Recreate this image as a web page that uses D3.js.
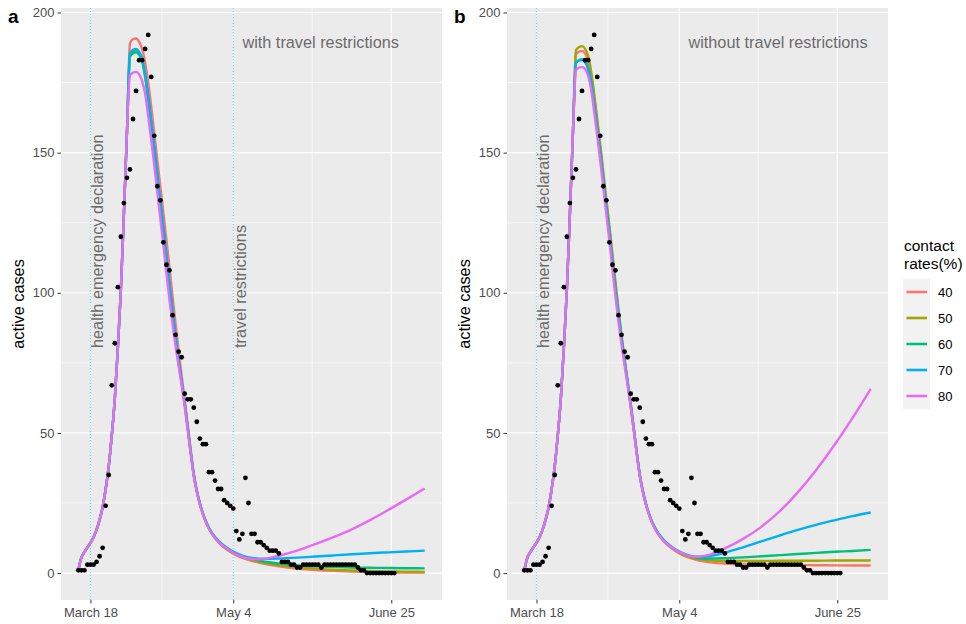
<!DOCTYPE html>
<html><head><meta charset="utf-8">
<script src="https://cdn.jsdelivr.net/npm/d3@7"></script>
<style>
body{margin:0;background:#fff}
svg{display:block}
text{font-family:"Liberation Sans",Arial,Helvetica,sans-serif}
</style>
</head><body>
<svg id="chart" width="966" height="624"></svg>
<script>
// ---------------- DATA ----------------
const startDate = "2020-03-14";           // day 0 of all series
// observed active cases, one value per day from startDate
const observed = [
  1,1,1,3,3,3,4,6,9,24,
  35,67,82,102,120,132,141,144,162,172,
  183,183,187,192,177,156,138,133,118,110,
  108,92,85,79,77,64,62,62,59,54,
  48,46,46,36,36,33,30,30,26,25,
  24,23,15,12,14,34,25,14,14,11,
  11,10,9,8,8,8,7,4,4,4,
  3,3,2,2,3,3,3,3,3,3,
  2,3,3,3,3,3,3,3,3,3,
  3,3,2,1,1,0,0,0,0,0,
  0,0,0,0,0
];
// model output sampled at these day offsets
const modelDays = [0,1,2,3,4,5,6,7,8,9,10,11,12,13,14,15,16,17,18,19,20,21,22,23,24,25,26,27,28,29,30,
  31,32,33,34,35,36,37,38,39,40,42,44,46,48,50,52,54,56,58,60,66,72,78,84,90,96,102,108,114];

const contactRates = ["40","50","60","70","80"];
const rateColors = ["#F8766D","#A3A500","#00BF7D","#00B0F6","#E76BF3"];

// panel a: with travel restrictions
const withR40 = [1,5.5,7.5,9.2,10.8,12.8,15.5,19,23.5,30,38,49,62,80,101,128,157,
  189,190.5,190.7,189.5,187,182,175,166.5,157,147.5,138,128.5,119,109,99,89,79.5,70.5,62,53,44,35.5,29.5,25,
  18.3,14.0,11.2,9.1,7.6,6.4,5.4,4.7,4.1,3.6,
  2.4,1.6,1.1,0.8,0.55,0.4,0.3,0.22,0.15];
const withR50 = [1,5.5,7.5,9.2,10.8,12.8,15.5,19,23.5,30,38,49,62,80,101,128,157,
  185,186.2,186.5,185.5,183,177.5,169.5,160.5,151.5,141.5,132,122.5,112.5,102.5,93,84,75.5,68,60.5,52,43,35,29.3,24.8,
  18.3,14.1,11.3,9.3,7.8,6.6,5.7,5.0,4.4,3.9,
  2.9,2.1,1.6,1.2,0.95,0.75,0.62,0.52,0.45];
const withR60 = [1,5.5,7.5,9.2,10.8,12.8,15.5,19,23.5,30,38,49,62,80,101,128,157,
  184.3,185.5,185.8,185,182.5,177,169.5,160.5,151.5,141.5,132,122.5,112.5,102.5,93,84,75.5,68,60.5,52,43,35,29.3,24.8,
  18.3,14.2,11.5,9.5,8.0,6.9,6.0,5.3,4.8,4.3,
  3.4,2.8,2.4,2.2,2.0,1.9,1.8,1.75,1.7];
const withR70 = [1,5.5,7.5,9.2,10.8,12.8,15.5,19,23.5,30,38,49,62,80,101,128,157,
  185.5,186.7,187,186,183.5,178,170,161,152,142,132.5,123,113,103,93.5,84.5,76,68.5,60.5,52,43,35,29.3,24.8,
  18.3,14.3,11.7,9.8,8.3,7.1,6.2,5.6,5.3,5.1,
  5.2,5.5,5.9,6.3,6.7,7.1,7.4,7.7,8.0];
const withR80 = [1,5.5,7.5,9.2,10.8,12.8,15.5,19,23.5,30,38,49,62,80,101,128,157,
  177.5,178.5,178.8,178,175.5,171,163,154.5,145.5,136,126.5,117,107,97.5,89,81,74,67,59.5,51,42.5,34.5,29,24.5,
  18.0,14.0,11.3,9.4,8.0,6.7,5.8,5.2,4.9,4.9,
  6.2,8.0,10.3,12.8,15.6,18.9,22.5,26.3,30.2];

// panel b: without travel restrictions
const withoutR40 = [1,5.5,7.5,9.2,10.8,12.8,15.5,19,23.5,30,38,49,62,80,101,128,157,
  185,186,186.3,185.3,183,177.5,169.5,160.5,151.5,141.5,132,122.5,112.5,102.5,93,84,75.5,68,60.5,52,43,35,29.3,24.8,
  18.3,14.1,11.3,9.3,7.7,6.5,5.6,4.9,4.4,4.0,
  3.4,3.1,3.0,2.9,2.85,2.8,2.75,2.7,2.7];
const withoutR50 = [1,5.5,7.5,9.2,10.8,12.8,15.5,19,23.5,30,38,49,62,80,101,128,157,
  186.5,187.7,188,187,184.5,179,171,162,153,143,133.5,124,114,104,94,85,76.5,68.5,60.5,52,43,35,29.3,24.8,
  18.3,14.2,11.4,9.4,7.9,6.7,5.9,5.3,4.9,4.6,
  4.3,4.3,4.3,4.4,4.4,4.4,4.5,4.5,4.5];
const withoutR60 = [1,5.5,7.5,9.2,10.8,12.8,15.5,19,23.5,30,38,49,62,80,101,128,157,
  182,183,183.3,182.5,180,175,167,158.5,149.5,140,130.5,121,111,101,92,83.5,75.5,68,60,51.5,43,35,29.3,24.8,
  18.3,14.3,11.6,9.6,8.1,7.0,6.2,5.6,5.3,5.2,
  5.3,5.6,6.0,6.4,6.8,7.2,7.6,7.9,8.3];
const withoutR70 = [1,5.5,7.5,9.2,10.8,12.8,15.5,19,23.5,30,38,49,62,80,101,128,157,
  182,182.8,183,182.3,180,175,167,158.5,149.5,140,130.5,121,111,101,92,83.5,75.5,68,60,51.5,43,35,29.3,24.8,
  18.3,14.3,11.7,9.8,8.3,7.2,6.4,5.9,5.8,5.9,
  7.3,9.2,11.3,13.4,15.4,17.2,18.8,20.3,21.6];
const withoutR80 = [1,5.5,7.5,9.2,10.8,12.8,15.5,19,23.5,30,38,49,62,80,101,128,157,
  179.6,180.3,180.5,179.8,177.5,172.5,164.5,156,147,137.5,128,118.5,108.5,98.5,89.5,81.5,74,67,59.5,51,42.5,34.5,29,24.5,
  18.0,14.0,11.4,9.5,8.1,7.0,6.2,5.8,5.9,6.3,
  8.8,12.2,16.5,22.0,28.8,36.7,45.6,55.3,65.7];

const xTickDates = ["2020-03-18","2020-05-04","2020-06-25"];
const xTickLabels = ["March 18","May 4","June 25"];
const yTicks = [0,50,100,150,200];

const emergencyDate = "2020-03-18";
const travelDate = "2020-05-04";
const noteDate = "2020-05-07";

// ---------------- SETUP ----------------
const svg = d3.select("#chart");
const parse = d3.utcParse("%Y-%m-%d");
const t0 = parse(startDate);
const dateOf = d => new Date(t0.getTime() + d * 864e5);
const FONT_TICK = 13, FONT_TITLE = 16.3;

const allDays = [0, observed.length - 1].concat(modelDays);
const dExt = d3.extent(allDays);
const dPad = (dExt[1] - dExt[0]) * 0.05;
const allVals = observed.concat(withR80, withoutR80, withR40, withoutR50);
const vExt = [0, d3.max(allVals)];
const vPad = (vExt[1] - vExt[0]) * 0.05;

const plotTop = 8, plotBottom = 600;
const y = d3.scaleLinear().domain([vExt[0] - vPad, vExt[1] + vPad]).range([plotBottom, plotTop]);

const panels = [
  {label: "a", left: 61, right: 442, series: [withR40, withR50, withR60, withR70, withR80],
   note: "with travel restrictions", events: [[emergencyDate, "health emergency declaration"], [travelDate, "travel restrictions"]]},
  {label: "b", left: 507, right: 888, series: [withoutR40, withoutR50, withoutR60, withoutR70, withoutR80],
   note: "without travel restrictions", events: [[emergencyDate, "health emergency declaration"]]}
];

panels.forEach(p => {
  const x = d3.scaleUtc().domain([dateOf(dExt[0] - dPad), dateOf(dExt[1] + dPad)]).range([p.left, p.right]);
  const g = svg.append("g");
  g.append("rect").attr("x", p.left).attr("y", plotTop).attr("width", p.right - p.left).attr("height", plotBottom - plotTop).attr("fill", "#EBEBEB");

  const yMinor = d3.pairs(yTicks).map(([a, b]) => (a + b) / 2);
  g.selectAll(".ymin").data(yMinor).join("line")
    .attr("x1", p.left).attr("x2", p.right).attr("y1", d => y(d)).attr("y2", d => y(d))
    .attr("stroke", "#fff").attr("stroke-width", 0.6);
  const xTicks = xTickDates.map(parse);
  const xMinor = d3.pairs(xTicks).map(([a, b]) => new Date((a.getTime() + b.getTime()) / 2));
  g.selectAll(".xmin").data(xMinor).join("line")
    .attr("y1", plotTop).attr("y2", plotBottom).attr("x1", d => x(d)).attr("x2", d => x(d))
    .attr("stroke", "#fff").attr("stroke-width", 0.6);
  g.selectAll(".ymaj").data(yTicks).join("line")
    .attr("x1", p.left).attr("x2", p.right).attr("y1", d => y(d)).attr("y2", d => y(d))
    .attr("stroke", "#fff").attr("stroke-width", 1.2);
  g.selectAll(".xmaj").data(xTicks).join("line")
    .attr("y1", plotTop).attr("y2", plotBottom).attr("x1", d => x(d)).attr("x2", d => x(d))
    .attr("stroke", "#fff").attr("stroke-width", 1.2);

  p.events.forEach(([ds, txt]) => {
    const xe = x(parse(ds));
    g.append("line").attr("x1", xe).attr("x2", xe).attr("y1", plotTop).attr("y2", plotBottom)
      .attr("stroke", "#8fd0ea").attr("stroke-width", 1.3).attr("stroke-dasharray", "1.3,1.7");
    g.append("text").attr("transform", `translate(${xe + 12.5},348) rotate(-90)`)
      .attr("text-anchor", "start").attr("font-size", FONT_TITLE).attr("fill", "#6b6b6b").text(txt);
  });

  g.append("text").attr("x", x(parse(noteDate))).attr("y", 47.5)
    .attr("text-anchor", "start").attr("font-size", FONT_TITLE).attr("fill", "#6b6b6b").text(p.note);

  const line = d3.line().x(d => x(dateOf(d[0]))).y(d => y(d[1])).curve(d3.curveMonotoneX);
  p.series.forEach((s, i) => {
    g.append("path").datum(modelDays.map((d, j) => [d, s[j]]))
      .attr("d", line).attr("fill", "none").attr("stroke", rateColors[i])
      .attr("stroke-width", 2.4).attr("stroke-linejoin", "round");
  });

  g.selectAll(".pt").data(observed).join("circle")
    .attr("cx", (v, i) => x(dateOf(i))).attr("cy", v => y(v)).attr("r", 2.4).attr("fill", "#000");

  const ya = svg.append("g").attr("transform", `translate(${p.left},0)`)
    .call(d3.axisLeft(y).tickValues(yTicks).tickSize(3.5).tickPadding(3));
  ya.select(".domain").remove();
  ya.selectAll("line").attr("stroke", "#333");
  ya.selectAll("text").attr("fill", "#4D4D4D").attr("font-size", FONT_TICK).attr("font-family", null);

  const xa = svg.append("g").attr("transform", `translate(0,${plotBottom})`)
    .call(d3.axisBottom(x).tickValues(xTicks).tickFormat((d, i) => xTickLabels[i]).tickSize(3.5).tickPadding(4.5));
  xa.select(".domain").remove();
  xa.selectAll("line").attr("stroke", "#333");
  xa.selectAll("text").attr("fill", "#4D4D4D").attr("font-size", FONT_TICK).attr("font-family", null);

  svg.append("text").attr("transform", `translate(${p.left - 37.5},304) rotate(-90)`)
    .attr("text-anchor", "middle").attr("font-size", FONT_TITLE).attr("fill", "#000").text("active cases");

  svg.append("text").attr("x", p.left - 53).attr("y", 23).attr("font-size", 19).attr("font-weight", "bold")
    .attr("fill", "#000").text(p.label);
});

const lg = svg.append("g");
lg.append("text").attr("x", 904).attr("y", 251).attr("font-size", 15.5).attr("fill", "#000").text("contact");
lg.append("text").attr("x", 904).attr("y", 268.5).attr("font-size", 15.5).attr("fill", "#000").text("rates(%)");
contactRates.forEach((r, i) => {
  const ky = 279 + i * 26;
  lg.append("rect").attr("x", 903).attr("y", ky).attr("width", 27).attr("height", 26).attr("fill", "#F2F2F2");
  lg.append("line").attr("x1", 906.5).attr("x2", 927).attr("y1", ky + 13).attr("y2", ky + 13)
    .attr("stroke", rateColors[i]).attr("stroke-width", 2.6);
  lg.append("text").attr("x", 938).attr("y", ky + 13).attr("dy", "0.35em").attr("font-size", FONT_TICK)
    .attr("fill", "#000").text(r);
});
</script>
</body></html>
